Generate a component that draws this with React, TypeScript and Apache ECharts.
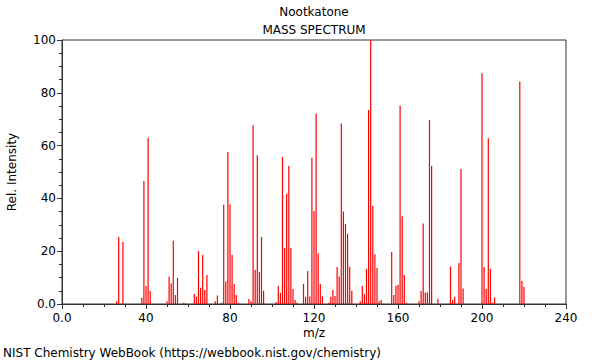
import React, { useEffect, useRef } from "react";
import * as echarts from "echarts";

const mzValues: number[] = [
  26, 27, 29, 38, 39, 40, 41, 42, 50, 51, 52, 53, 54, 55, 58,
  63, 64, 65, 66, 67, 68, 69, 73, 74, 76, 77, 78, 79, 80, 81, 82, 83, 84,
  89, 90, 91, 92, 93, 94, 95, 96, 102, 103, 104, 105, 106, 107, 108, 109, 110, 111, 112,
  115, 116, 117, 118, 119, 120, 121, 122, 123, 124, 127, 128, 129, 130, 131, 132, 133, 134, 135, 136, 137, 138,
  142, 143, 144, 145, 146, 147, 148, 149, 150, 151, 152,
  157, 158, 159, 160, 161, 162, 163, 164, 170, 171, 172, 173, 174, 175, 176, 179,
  185, 186, 187, 189, 190, 191, 200, 201, 202, 203, 204, 205, 206, 218, 219, 220,
];
const intensities: number[] = [
  1, 25.4, 23.5, 2.4, 46.6, 6.8, 63, 4.9, 1, 10.3, 7.8, 24, 3.4, 9.9, 0.5,
  3.8, 2.7, 20, 6.2, 18.6, 5.3, 11, 1, 3.2, 0.5, 37.6, 8.5, 57.6, 37.8, 18.6, 7.6, 3.4, 0.5,
  1.9, 1, 67.7, 12.9, 56.3, 12.1, 25.4, 5, 0.8, 6.8, 4.2, 55.7, 21.2, 41.8, 52.3, 21.2, 5.7, 1.5, 0.5,
  7.6, 2.7, 12.5, 2.9, 55.4, 35.2, 72.2, 19.1, 7.6, 2.9, 0.5, 2.7, 5.3, 3, 14, 10.4, 68.4, 35, 30.3, 26.6, 14.1, 5,
  1, 6.8, 3.7, 13.3, 73.5, 100, 37.1, 18.8, 13.6, 1, 1.5,
  19.7, 3.4, 6.9, 7.3, 75.1, 33.2, 11, 0.5, 1, 4.9, 30.5, 4.4, 4.4, 69.7, 52.3, 2,
  14.2, 1.5, 2.7, 15.5, 51.1, 5.9, 87.4, 14, 5.7, 62.8, 13.3, 0.5, 2.5, 84.3, 8.7, 6.4,
];

const titleLine1 = "Nootkatone";
const titleLine2 = "MASS SPECTRUM";
const xAxisName = "m/z";
const yAxisName = "Rel. Intensity";
const footerText = "NIST Chemistry WebBook (https://webbook.nist.gov/chemistry)";

const FONT = "DejaVu Sans";

export default function App() {
  const ref = useRef<HTMLDivElement>(null);
  useEffect(() => {
    if (!ref.current) return;
    const chart = echarts.init(ref.current, undefined, { renderer: "svg" });
    const data = mzValues.map((m, i) => [m, intensities[i]]);
    const fmt = (v: number) => (v === 0 ? "0.0" : String(v));
    const axisCommon = {
      axisLine: { show: true, lineStyle: { color: "#333", width: 1 } },
      axisTick: { show: true, inside: false, length: 5, lineStyle: { color: "#333" } },
      minorTick: { show: true, splitNumber: 4, length: 3, lineStyle: { color: "#333" } },
      splitLine: { show: false },
      axisLabel: { color: "#000", fontFamily: FONT, fontSize: 12, formatter: fmt },
    };
    chart.setOption({
      animation: false,
      backgroundColor: "#fff",
      grid: {
        left: 62,
        right: 34,
        top: 40,
        bottom: 56,
        show: true,
        borderColor: "#333",
        borderWidth: 1,
        backgroundColor: "transparent",
      },
      xAxis: {
        type: "value",
        min: 0,
        max: 240,
        interval: 40,
        ...axisCommon,
        axisLabel: { ...axisCommon.axisLabel, margin: 8 },
      },
      yAxis: {
        type: "value",
        min: 0,
        max: 100,
        interval: 20,
        ...axisCommon,
        axisLabel: { ...axisCommon.axisLabel, margin: 6 },
      },
      series: [
        {
          type: "custom",
          data,
          silent: true,
          encode: { x: 0, y: 1 },
          renderItem: (params: any, api: any) => {
            const top = api.coord([api.value(0), api.value(1)]);
            const base = api.coord([api.value(0), 0]);
            return {
              type: "rect",
              shape: { x: top[0] - 0.6, y: top[1], width: 1.2, height: base[1] - top[1] },
              style: { fill: "#ff0000", stroke: null, lineWidth: 0 },
            };
          },
        },
      ],
      graphic: [
        {
          type: "text",
          x: 314,
          y: 12,
          style: { text: titleLine1, fill: "#000", font: `12px "${FONT}"`, textAlign: "center", textVerticalAlign: "middle" },
        },
        {
          type: "text",
          x: 314,
          y: 30,
          style: { text: titleLine2, fill: "#000", font: `12px "${FONT}"`, textAlign: "center", textVerticalAlign: "middle" },
        },
        {
          type: "text",
          x: 12,
          y: 172,
          rotation: Math.PI / 2,
          style: { text: yAxisName, fill: "#000", font: `12px "${FONT}"`, textAlign: "center", textVerticalAlign: "middle" },
        },
        {
          type: "text",
          x: 314,
          y: 333,
          style: { text: xAxisName, fill: "#000", font: `12px "${FONT}"`, textAlign: "center", textVerticalAlign: "middle" },
        },
        {
          type: "text",
          x: 3,
          y: 353,
          style: { text: footerText, fill: "#000", font: `12px "${FONT}"`, textAlign: "left", textVerticalAlign: "middle" },
        },
      ],
    });
    return () => chart.dispose();
  }, []);
  return (
    <div
      ref={ref}
      style={{ position: "fixed", left: 0, top: 0, width: 600, height: 360 }}
    />
  );
}
